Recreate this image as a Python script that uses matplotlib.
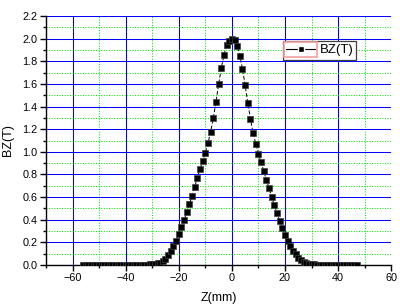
import matplotlib
matplotlib.use("Agg")
import matplotlib.pyplot as plt
from matplotlib.ticker import MultipleLocator
from matplotlib.lines import Line2D
from matplotlib.patches import Rectangle

# Data
z_mm = list(range(-56, 48))
bz_left_tail = [0.0, 0.0, 0.0, 0.0, 0.0, 0.0, 0.0, 0.0, 0.0, 0.0,
                0.0, 0.0, 0.0, 0.001, 0.001, 0.001, 0.001, 0.001, 0.002, 0.002, 0.002,
                0.002, 0.003, 0.003, 0.004, 0.005, 0.007, 0.010]          # -56 .. -29
bz_core = [0.014, 0.022, 0.035, 0.055, 0.085, 0.122, 0.165, 0.215, 0.272, 0.333,
           0.398, 0.466, 0.538, 0.610, 0.690, 0.772, 0.850, 0.918, 0.992, 1.078,
           1.176, 1.296, 1.440, 1.595, 1.738, 1.852, 1.940, 1.983, 2.000,
           1.985, 1.938, 1.848, 1.733, 1.588, 1.432, 1.290, 1.168, 1.070, 0.982,
           0.908, 0.830, 0.750, 0.680, 0.600, 0.527, 0.458, 0.392, 0.326, 0.266,
           0.214, 0.168, 0.128, 0.095, 0.066, 0.044, 0.029, 0.018]         # -28 .. 28
bz_right_tail = [0.011, 0.007, 0.005, 0.004, 0.003, 0.002, 0.002, 0.002, 0.001, 0.001,
                 0.001, 0.001, 0.0, 0.0, 0.0, 0.0, 0.0, 0.0, 0.0]            # 29 .. 47
bz_T = bz_left_tail + bz_core + bz_right_tail

x_label = "Z(mm)"
y_label = "BZ(T)"
series_name = "BZ(T)"

plt.rcParams['font.family'] = ['Liberation Sans', 'DejaVu Sans']

fig = plt.figure(figsize=(4.0, 3.08), dpi=100)
ax = fig.add_axes([0.115, 0.1396, 0.863, 0.8084])

ax.plot(z_mm, bz_T, color='black', linestyle=(0, (4, 2)), linewidth=0.7,
        marker='s', markersize=4.5, markerfacecolor='black',
        markeredgecolor='#404040', markeredgewidth=0.5, label=series_name, zorder=5)

ax.set_xlim(-70, 60)
ax.set_ylim(0, 2.2)
ax.xaxis.set_major_locator(MultipleLocator(20))
ax.xaxis.set_minor_locator(MultipleLocator(10))
ax.yaxis.set_major_locator(MultipleLocator(0.2))
ax.yaxis.set_minor_locator(MultipleLocator(0.1))
ax.yaxis.set_major_formatter(matplotlib.ticker.FormatStrFormatter('%.1f'))

ax.grid(which='major', color='#0000ff', linestyle='-', linewidth=0.75, zorder=1)
ax.grid(which='minor', color='#00ee00', linestyle=(0, (1, 1.5)), linewidth=0.75, zorder=1)
ax.set_axisbelow(True)

for s in ('top', 'right'):
    ax.spines[s].set_visible(False)
for s in ('left', 'bottom'):
    ax.spines[s].set_linewidth(1.0)
    ax.spines[s].set_color('black')

ax.tick_params(which='major', direction='out', length=4, width=1, labelsize=7.8, pad=2)
ax.tick_params(which='minor', direction='out', length=2.5, width=1)

ax.set_xlabel(x_label, fontsize=9, labelpad=6)
ax.set_ylabel(y_label, fontsize=9, labelpad=6)

proxy = Line2D([], [], color='black', linestyle='-', linewidth=0.8,
               marker='s', markersize=4.5, markerfacecolor='black',
               markeredgecolor='white', markeredgewidth=1.0)
leg = ax.legend([proxy], [series_name], loc='upper left', bbox_to_anchor=(0.687, 0.9),
                fontsize=9.5, frameon=True, fancybox=False, edgecolor='#404040',
                framealpha=1, handlelength=2.2, handletextpad=0.3, borderpad=0.25,
                borderaxespad=0)
leg.get_frame().set_linewidth(0.9)
leg.set_zorder(10)

# Pink selection rectangle around the legend symbol (as in the reference)
fig.canvas.draw()
bb = leg.get_window_extent()
txt_bb = leg.get_texts()[0].get_window_extent()
rect = Rectangle((bb.x0 + 1, bb.y0 + 3), (txt_bb.x0 - 2) - (bb.x0 + 1), bb.height - 4,
                 transform=None, fill=False, edgecolor='#f4a0a0', linewidth=1.2,
                 zorder=11)
fig.add_artist(rect)

fig.savefig("out.png", dpi=100)
